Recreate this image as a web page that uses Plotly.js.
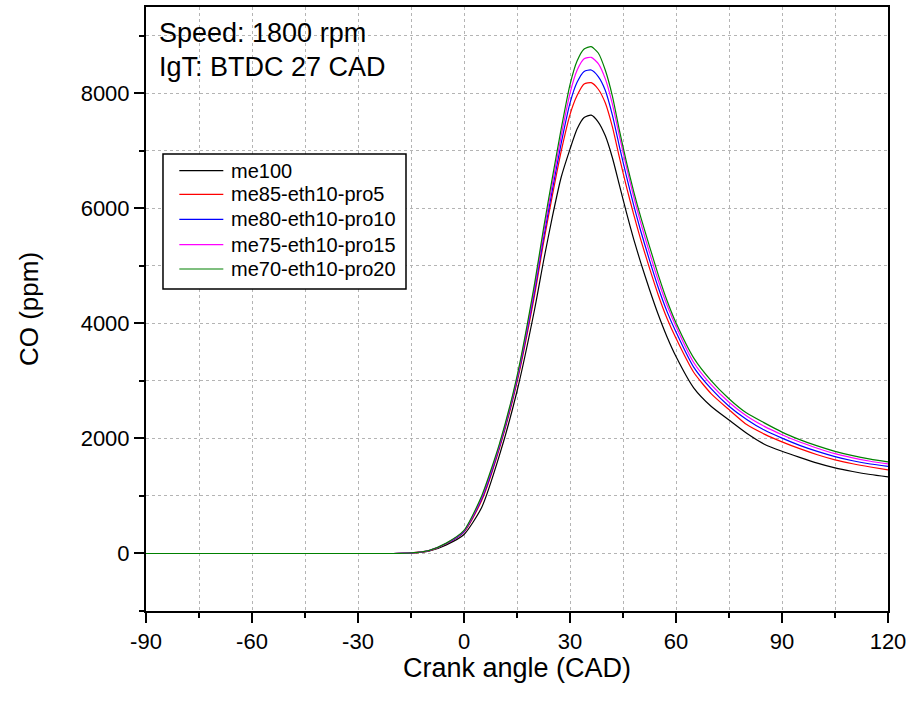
<!DOCTYPE html>
<html>
<head>
<meta charset="utf-8">
<script src="https://cdn.plot.ly/plotly-3.0.1.min.js"></script>
<style>html,body{margin:0;padding:0;background:#fff;}#chart{width:911px;height:702px;}</style>
</head>
<body>
<div id="chart"></div>
<script>
// Crank angle (CAD)
const crankAngle = [-90, -20, -15, -10, -5, 0, 5, 10, 15, 20, 22.5, 25, 27.5, 30, 32, 34, 36, 38, 40, 42, 44, 46, 48, 50, 52.5, 55, 57.5, 60, 65, 70, 75, 80, 85, 90, 95, 100, 105, 110, 115, 120];

// CO (ppm) per fuel blend
const me100            = [0, 0, 8, 40, 150, 330, 800, 1700, 2820, 4250, 5080, 5850, 6540, 7030, 7380, 7580, 7620, 7500, 7260, 6880, 6400, 5920, 5470, 5060, 4590, 4150, 3760, 3424, 2880, 2555, 2320, 2090, 1900, 1776, 1670, 1570, 1487, 1425, 1373, 1331];
const me85_eth10_pro5  = [0, 0, 9, 46, 168, 372, 920, 1820, 2976, 4500, 5400, 6220, 6990, 7630, 7960, 8160, 8185, 8070, 7830, 7415, 6880, 6370, 5900, 5460, 4960, 4490, 4080, 3740, 3150, 2775, 2500, 2240, 2075, 1940, 1822, 1717, 1628, 1560, 1503, 1452];
const me80_eth10_pro10 = [0, 0, 9, 48, 172, 382, 950, 1850, 3015, 4570, 5480, 6320, 7130, 7830, 8190, 8380, 8405, 8290, 8050, 7620, 7070, 6550, 6060, 5610, 5100, 4620, 4200, 3850, 3240, 2860, 2560, 2330, 2145, 2005, 1880, 1775, 1685, 1612, 1555, 1515];
const me75_eth10_pro15 = [0, 0, 10, 49, 176, 392, 976, 1876, 3050, 4640, 5570, 6420, 7260, 8000, 8400, 8600, 8625, 8515, 8250, 7810, 7250, 6710, 6210, 5750, 5230, 4740, 4310, 3945, 3320, 2930, 2630, 2390, 2210, 2065, 1937, 1830, 1735, 1662, 1603, 1556];
const me70_eth10_pro20 = [0, 0, 10, 50, 180, 400, 1000, 1900, 3080, 4700, 5650, 6530, 7380, 8150, 8560, 8770, 8810, 8700, 8400, 7950, 7350, 6800, 6300, 5850, 5340, 4840, 4390, 4010, 3400, 3000, 2690, 2440, 2270, 2110, 1980, 1870, 1775, 1700, 1640, 1591];

const seriesNames = ["me100", "me85-eth10-pro5", "me80-eth10-pro10", "me75-eth10-pro15", "me70-eth10-pro20"];
const seriesValues = [me100, me85_eth10_pro5, me80_eth10_pro10, me75_eth10_pro15, me70_eth10_pro20];
const seriesColors = ["#000000", "#ff0000", "#0000ff", "#ff00ff", "#008000"];

const xTickVals = [-90, -60, -30, 0, 30, 60, 90, 120];
const yTickVals = [0, 2000, 4000, 6000, 8000];

const FONT = "Liberation Sans, Arial, sans-serif";

const traces = seriesNames.map((name, i) => ({
  type: "scatter",
  mode: "lines",
  name: name,
  x: crankAngle,
  y: seriesValues[i],
  line: { color: seriesColors[i], width: 1.2, shape: "spline", smoothing: 0.6 }
}));

// Legend (key) drawn as a framed box with line samples
const legBox = { x0: 0.0229, x1: 0.3504, y0: 0.5331, y1: 0.7566 };
const legRowY = [0.7290, 0.6899, 0.6485, 0.6065, 0.5662];
const legLineX = [0.0449, 0.1042];
const legTextX = 0.1115;

const shapes = [
  { type: "rect", xref: "paper", yref: "paper", x0: legBox.x0, x1: legBox.x1, y0: legBox.y0, y1: legBox.y1,
    line: { color: "#000000", width: 1.5 }, fillcolor: "#ffffff", layer: "above" }
].concat(seriesNames.map((n, i) => ({
  type: "line", xref: "paper", yref: "paper", x0: legLineX[0], x1: legLineX[1], y0: legRowY[i], y1: legRowY[i],
  line: { color: seriesColors[i], width: 1.2 }, layer: "above"
})));

const legendTexts = seriesNames.map((n, i) => ({
  text: n, xref: "paper", yref: "paper", x: legTextX, y: legRowY[i],
  xanchor: "left", yanchor: "middle", showarrow: false,
  font: { family: FONT, size: 20, color: "#000000" }
}));

const layout = {
  width: 911,
  height: 702,
  margin: { l: 146, r: 23, t: 7, b: 91 },
  paper_bgcolor: "#ffffff",
  plot_bgcolor: "#ffffff",
  font: { family: FONT, color: "#000000", size: 20 },
  showlegend: false,
  xaxis: {
    range: [-90, 120],
    tickmode: "array", tickvals: xTickVals, ticktext: xTickVals.map(String),
    ticks: "outside", ticklen: 10, tickwidth: 2, tickcolor: "#000000",
    showline: true, linecolor: "#000000", linewidth: 2, mirror: true,
    showgrid: true, gridcolor: "#b4b4b4", gridwidth: 1, griddash: "dot",
    zeroline: false,
    tickfont: { family: FONT, size: 22, color: "#000000" },
    minor: { dtick: 15, tick0: -90, ticks: "outside", ticklen: 5, tickwidth: 2, tickcolor: "#000000",
             showgrid: true, gridcolor: "#b4b4b4", gridwidth: 1, griddash: "dot" }
  },
  yaxis: {
    range: [-1000, 9500],
    tickmode: "array", tickvals: yTickVals, ticktext: yTickVals.map(String),
    ticks: "outside", ticklen: 10, tickwidth: 2, tickcolor: "#000000",
    showline: true, linecolor: "#000000", linewidth: 2, mirror: true,
    showgrid: true, gridcolor: "#b4b4b4", gridwidth: 1, griddash: "dot",
    zeroline: false,
    tickfont: { family: FONT, size: 22, color: "#000000" },
    minor: { dtick: 1000, tick0: 0, ticks: "outside", ticklen: 5, tickwidth: 2, tickcolor: "#000000",
             showgrid: true, gridcolor: "#b4b4b4", gridwidth: 1, griddash: "dot" },
    title: { text: "CO (ppm)", font: { family: FONT, size: 26, color: "#000000" }, standoff: 35 }
  },
  shapes: shapes,
  annotations: [
    { text: "Speed: 1800 rpm", xref: "paper", yref: "paper", x: 0.0148, y: 0.957,
      xanchor: "left", yanchor: "middle", showarrow: false,
      font: { family: FONT, size: 27, color: "#000000" } },
    { text: "IgT: BTDC 27 CAD", xref: "paper", yref: "paper", x: 0.0148, y: 0.9007,
      xanchor: "left", yanchor: "middle", showarrow: false,
      font: { family: FONT, size: 27, color: "#000000" } },
    { text: "Crank angle (CAD)", xref: "paper", yref: "paper", x: 0.5, y: -0.0944,
      xanchor: "center", yanchor: "middle", showarrow: false,
      font: { family: FONT, size: 27, color: "#000000" } }
  ].concat(legendTexts)
};

Plotly.newPlot("chart", traces, layout, { displayModeBar: false, staticPlot: true });
</script>
</body>
</html>
